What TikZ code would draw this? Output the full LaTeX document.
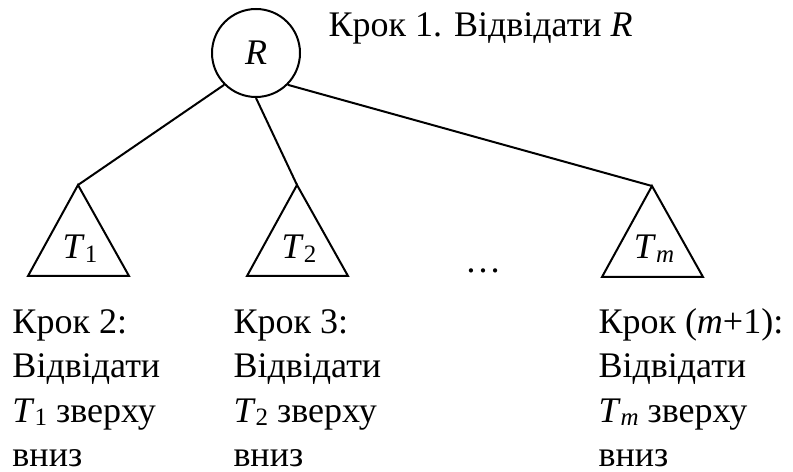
\documentclass[tikz,border=0pt]{standalone}
\usepackage{fontspec}
\setmainfont{Liberation Serif}

% italic letter with a small upright (or italic) index
\newcommand{\tsub}[2]{\textit{#1}\raisebox{-0.2ex}{\fontsize{10}{10}\selectfont #2}}

\begin{document}
\begin{tikzpicture}[
    x=0.4pt, y=-0.4pt,
    font=\fontsize{14.4}{17.6}\selectfont,
    vertex/.style={draw, circle, thick, minimum size=35.2pt, inner sep=0pt},
    edge/.style={thick},
    subtree/.style={draw, thick, line join=miter},
    lab/.style={anchor=base, inner sep=0pt},
    steptext/.style={anchor=base west, align=left, inner sep=0pt}
]
\useasboundingbox (0,0) rectangle (793,472);

% root
\node[vertex] (R) at (256,53) {\textit{R}};
\node[steptext] (step1) at (328,37) {Крок 1. Відвідати \textit{R}};

% subtrees
\coordinate (t1) at (78,185);
\coordinate (t2) at (297,185);
\coordinate (tm) at (652,186);
\draw[subtree] (t1) -- ++(-50,91) -- ++(101,0) -- cycle;
\draw[subtree] (t2) -- ++(-50,91) -- ++(101,0) -- cycle;
\draw[subtree] (tm) -- ++(-50,91) -- ++(101,0) -- cycle;
\node[lab] (l1) at (80,259) {\tsub{T}{1}};
\node[lab] (l2) at (299,259) {\tsub{T}{2}};
\node[lab] (lm) at (654,259) {\tsub{T}{\textit{m}}};
\node[lab] (dots) at (483,273) {\dots};

\draw[edge] (R.south west) -- (t1);
\draw[edge] (R.south) -- (t2);
\draw[edge] (R.south east) -- (tm);

% steps below the subtrees (base = last line)
\node[steptext] (step2) at (12,466) {Крок 2:\\Відвідати\\\tsub{T}{1} зверху\\вниз};
\node[steptext] (step3) at (233,466) {Крок 3:\\Відвідати\\\tsub{T}{2} зверху\\вниз};
\node[steptext] (stepm) at (598,466) {Крок (\textit{m}+1):\\Відвідати\\\tsub{T}{\textit{m}} зверху\\вниз};
\end{tikzpicture}
\end{document}
